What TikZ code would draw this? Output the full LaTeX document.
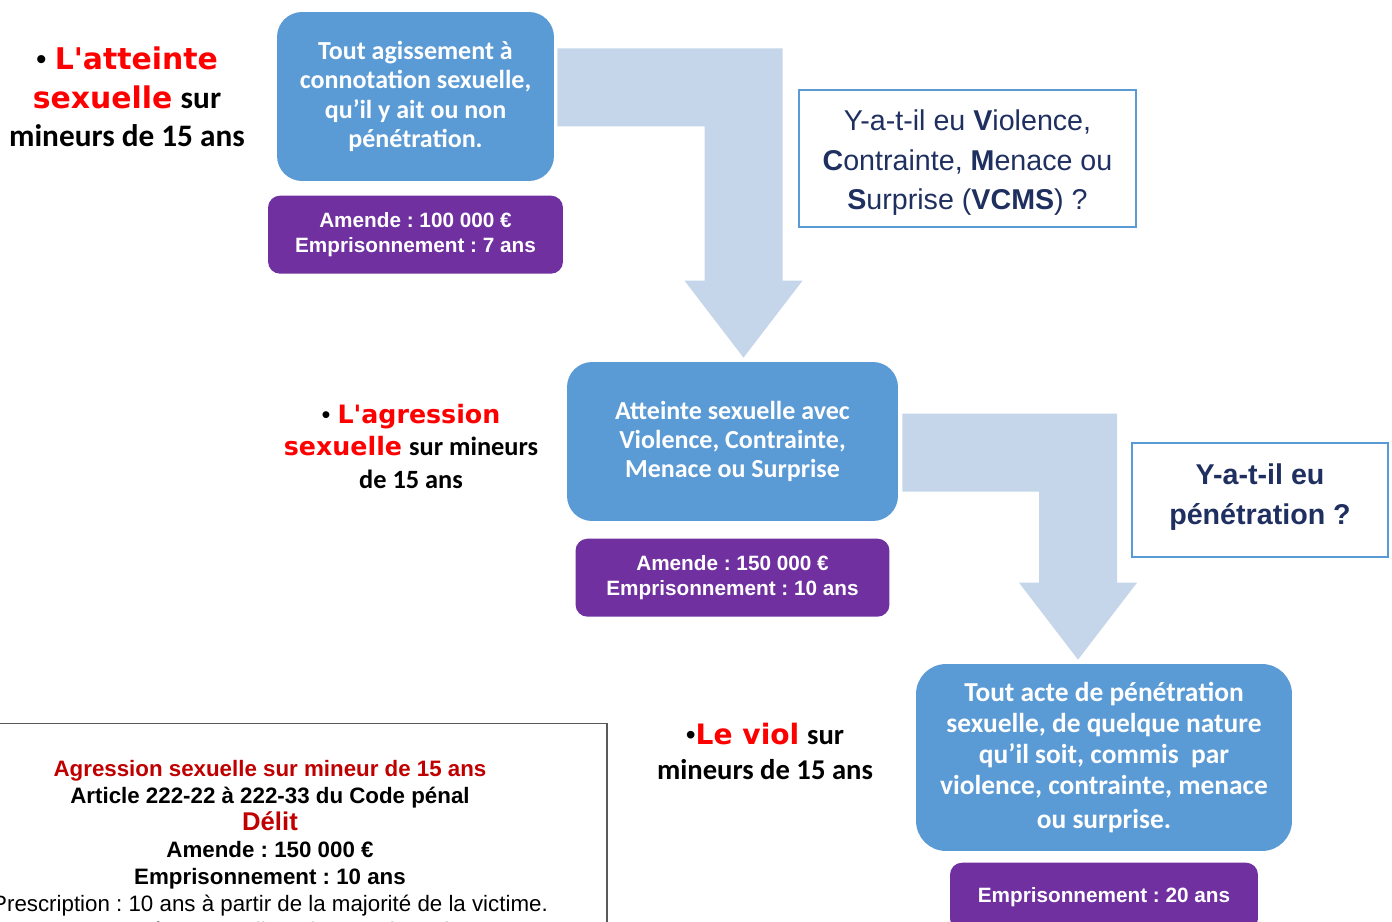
\documentclass[tikz,border=0pt]{standalone}
\usepackage{fontspec}
\setmainfont{Liberation Sans}
\newfontfamily\calibri{Carlito}
\newfontfamily\heavy{DejaVu Sans}
\usetikzlibrary{positioning,calc}
\frenchspacing

\definecolor{boxblue}{HTML}{5B9BD5}
\definecolor{boxpurple}{HTML}{7030A0}
\definecolor{flowblue}{HTML}{C5D5EA}
\definecolor{qnavy}{HTML}{1F3060}
\definecolor{darkred}{HTML}{C00000}
\definecolor{legendgray}{HTML}{595959}

% big bent arrow: from start point (#1) to tip (#2)
\newcommand{\bentarrow}[2]{%
  \fill[flow] ($(#1)+(0,-39)$) -- ($(#2 |- #1)+(39,-39)$) -- ($(#2)+(39,-77)$)
    -- ($(#2)+(59,-77)$) -- (#2) -- ($(#2)+(-59,-77)$) -- ($(#2)+(-39,-77)$)
    -- ($(#2 |- #1)+(-39,39)$) -- ($(#1)+(0,39)$) -- cycle;}

\begin{document}
\begin{tikzpicture}[
  x=0.02cm, y=-0.02cm,
  fact/.style={fill=boxblue, rounded corners=0.5cm, text=white, align=center,
               font=\calibri\bfseries\fontsize{14.8}{16.6}\selectfont},
  peine/.style={fill=boxpurple, rounded corners=0.24cm, text=white, align=center,
                minimum height=1.56cm, font=\bfseries\fontsize{11.8}{14.2}\selectfont},
  quest/.style={draw=boxblue, line width=1.2pt, text=qnavy, align=center,
                font=\fontsize{16.3}{22.7}\selectfont},
  crime/.style={align=center},
  flow/.style={fill=flowblue},
  legend/.style={draw=legendgray, line width=0.8pt, align=center,
                 font=\fontsize{12.7}{15.4}\selectfont},
]
\clip (0,0) rectangle (1392,922);

% facts and penalties
\node[fact, minimum width=5.54cm, minimum height=3.38cm] (b1) at (415.5,96.5)
  {Tout agissement à\\ connotation sexuelle,\\ qu’il y ait ou non\\ pénétration.};
\node[peine, minimum width=5.9cm, below=0.28cm of b1] (p1)
  {Amende : 100 000 €\\ Emprisonnement : 7 ans};

\node[fact, minimum width=6.62cm, minimum height=3.18cm] (b2) at (732.5,441.5)
  {Atteinte sexuelle avec\\ Violence, Contrainte,\\ Menace ou Surprise};
\node[peine, minimum width=6.28cm, below=0.34cm of b2] (p2)
  {Amende : 150 000 €\\ Emprisonnement : 10 ans};

\node[fact, minimum width=7.52cm, minimum height=3.74cm, rounded corners=0.6cm,
      font=\calibri\bfseries\fontsize{15.6}{17.6}\selectfont] (b3) at (1104,757.5)
  {Tout acte de pénétration\\ sexuelle, de quelque nature\\ qu’il soit, commis\ \ par\\
   violence, contrainte, menace\\[2pt] ou surprise.};
\node[peine, minimum width=6.16cm, minimum height=1.36cm, below=0.22cm of b3] (p3)
  {Emprisonnement : 20 ans};

% questions
\node[quest, minimum width=6.74cm, minimum height=2.74cm] (q1) at (967.5,158.5)
  {\rule{0pt}{16.5pt}Y-a-t-il eu \textbf{V}iolence,\\ \textbf{C}ontrainte, \textbf{M}enace ou\\
   \textbf{S}urprise (\textbf{VCMS}) ?};
\node[quest, minimum width=5.12cm, minimum height=2.28cm, font=\bfseries\fontsize{16.3}{22.7}\selectfont]
  (q2) at (1260,500) {Y-a-t-il eu\\ pénétration ?\rule[-7pt]{0pt}{7pt}};

% arrows
\coordinate (a1s) at ($(b1.east)+(3,-9)$);
\coordinate (a1t) at ($(b2.north)+(11,-4)$);
\coordinate (a2s) at ($(b2.east)+(4,11)$);
\coordinate (a2t) at ($(b3.north)+(-26,-4)$);
\bentarrow{a1s}{a1t}
\bentarrow{a2s}{a2t}

% offences
\node[crime, font=\fontsize{17}{22}\selectfont] (atteinte) at (127,97)
  {• {\heavy\color{red}\bfseries L\textquotesingle atteinte}\\
   {\heavy\color{red}\bfseries sexuelle} {\calibri\bfseries\fontsize{17.8}{22}\selectfont sur}\\
   {\calibri\bfseries\fontsize{17.8}{22}\selectfont mineurs de 15 ans}};
\node[crime, font=\fontsize{14.4}{18.5}\selectfont] (agression) at (411,446)
  {• {\heavy\color{red}\bfseries L\textquotesingle agression}\\
   {\heavy\color{red}\bfseries sexuelle} {\calibri\bfseries\fontsize{15}{18.5}\selectfont sur mineurs}\\
   {\calibri\bfseries\fontsize{15}{18.5}\selectfont de 15 ans}};
\node[crime, font=\fontsize{16}{19.8}\selectfont] (viol) at (765,751.5)
  {•{\heavy\color{red}\bfseries Le viol} {\calibri\bfseries\fontsize{16.3}{19.8}\selectfont sur}\\
   {\calibri\bfseries\fontsize{16.3}{19.8}\selectfont mineurs de 15 ans}};

% legend
\node[legend, anchor=north, minimum width=13.48cm, minimum height=5.12cm] (lg) at (270,723)
  {{\color{darkred}\bfseries Agression sexuelle sur mineur de 15 ans}\\
   \textbf{Article 222-22 à 222-33 du Code pénal}\\
   {\color{darkred}\bfseries\fontsize{14.6}{16}\selectfont Délit}\\
   \textbf{Amende : 150 000 €}\\
   \textbf{Emprisonnement : 10 ans}\\
   Prescription : 10 ans à partir de la majorité de la victime.\\
   Compétence : Tribunal correctionnel};
\end{tikzpicture}
\end{document}
